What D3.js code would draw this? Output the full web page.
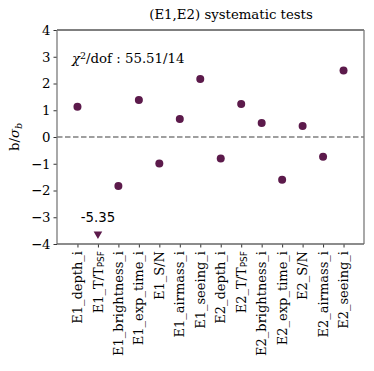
<!DOCTYPE html>
<html>
<head>
<meta charset="utf-8">
<script src="https://cdn.jsdelivr.net/npm/d3@7"></script>
<style>
  body { margin: 0; background: #fff; }
  text { font-family: "DejaVu Serif", serif; }
</style>
</head>
<body>
<svg id="chart" width="374" height="371"></svg>
<script>
// tests on the x axis, b/sigma_b values
var tests = ["E1_depth_i", "E1_T/T_PSF", "E1_brightness_i", "E1_exp_time_i", "E1_S/N",
  "E1_airmass_i", "E1_seeing_i", "E2_depth_i", "E2_T/T_PSF", "E2_brightness_i",
  "E2_exp_time_i", "E2_S/N", "E2_airmass_i", "E2_seeing_i"];
var values = [1.13, -5.35, -1.83, 1.38, -0.99, 0.67, 2.17, -0.80, 1.23, 0.52, -1.60, 0.41, -0.74, 2.49];
var yTicks = [-4, -3, -2, -1, 0, 1, 2, 3, 4];
var chi2 = "55.51", dof = "14";

var width = 374, height = 371;
var margin = { top: 30, right: 10, bottom: 127, left: 57 };
var color = "#5c1a4b";

var svg = d3.select("#chart");

var x = d3.scaleLinear().domain([-1, tests.length]).range([margin.left, width - margin.right]);
var y = d3.scaleLinear().domain([-4, 4]).range([height - margin.bottom, margin.top]);

// zero line
svg.append("line")
  .attr("x1", x(-1)).attr("x2", x(tests.length))
  .attr("y1", y(0)).attr("y2", y(0))
  .attr("stroke", "#808080").attr("stroke-width", 1.5)
  .attr("stroke-dasharray", "5.5,2.5");

// y axis
var yAxis = svg.append("g")
  .attr("transform", "translate(" + margin.left + ",0)")
  .call(d3.axisLeft(y).tickValues(yTicks).tickSize(3.5).tickPadding(3)
    .tickFormat(function (d) { return d < 0 ? "\u2212" + Math.abs(d) : d; }));
yAxis.select(".domain").remove();
yAxis.selectAll("text").style("font-size", "13.3px").attr("fill", "#000");
yAxis.selectAll("line").attr("stroke", "#333");

// x axis
var xAxis = svg.append("g")
  .attr("transform", "translate(0," + y(-4) + ")")
  .call(d3.axisBottom(x).tickValues(d3.range(tests.length)).tickSize(3.5).tickFormat(""));
xAxis.select(".domain").remove();
xAxis.selectAll("line").attr("stroke", "#333");

// x tick labels, rotated
var labels = svg.append("g").selectAll("text")
  .data(tests)
  .enter()
  .append("text")
  .attr("transform", function (d, i) {
    return "translate(" + x(i) + "," + (y(-4) + 7) + ") rotate(-90)";
  })
  .attr("text-anchor", "end")
  .attr("dominant-baseline", "central")
  .style("font-size", "13px");
labels.each(function (d) {
  var t = d3.select(this);
  if (d.indexOf("T/T_PSF") >= 0) {
    t.append("tspan").text(d.replace("_PSF", ""));
    t.append("tspan").text("PSF")
      .style("font-family", "DejaVu Sans, sans-serif")
      .style("font-size", "9px")
      .attr("dy", "0.3em");
  } else {
    t.text(d);
  }
});

// spines
var x0 = x(-1), x1 = x(tests.length), y0 = y(4), y1 = y(-4);
svg.append("line").attr("x1", x0).attr("x2", x1).attr("y1", y0).attr("y2", y0)
  .attr("stroke", "#000").attr("stroke-width", 1);
svg.append("line").attr("x1", x0).attr("x2", x0).attr("y1", y0).attr("y2", y1)
  .attr("stroke", "#7a7a7a").attr("stroke-width", 1.3);
svg.append("line").attr("x1", x1).attr("x2", x1).attr("y1", y0).attr("y2", y1)
  .attr("stroke", "#7a7a7a").attr("stroke-width", 1.3);
svg.append("line").attr("x1", x0).attr("x2", x1).attr("y1", y1).attr("y2", y1)
  .attr("stroke", "#666").attr("stroke-width", 1.3);

// points inside the range
var inside = values.map(function (v, i) { return { i: i, v: v }; })
  .filter(function (d) { return d.v >= -4 && d.v <= 4; });
svg.append("g").selectAll("circle")
  .data(inside)
  .enter()
  .append("circle")
  .attr("cx", function (d) { return x(d.i); })
  .attr("cy", function (d) { return y(d.v); })
  .attr("r", 4)
  .attr("fill", color);

// out of range values: triangle at the bottom with the value above
var below = values.map(function (v, i) { return { i: i, v: v }; })
  .filter(function (d) { return d.v < -4; });
var tri = d3.symbol().type(d3.symbolTriangle).size(32);
svg.append("g").selectAll("path")
  .data(below)
  .enter()
  .append("path")
  .attr("d", tri)
  .attr("transform", function (d) { return "translate(" + x(d.i) + "," + y(-3.63) + ") rotate(180)"; })
  .attr("fill", color);
svg.append("g").selectAll("text")
  .data(below)
  .enter()
  .append("text")
  .attr("x", function (d) { return x(d.i); })
  .attr("y", y(-3.18))
  .attr("text-anchor", "middle")
  .style("font-family", "DejaVu Sans, sans-serif")
  .style("font-size", "13.3px")
  .text(function (d) { return d.v.toFixed(2); });

// chi2 text
var chi = svg.append("text")
  .attr("x", 72).attr("y", 63)
  .style("font-size", "13.3px");
chi.append("tspan").text("\u03c7").style("font-style", "italic");
chi.append("tspan").text("2").style("font-size", "9.5px").attr("dy", "-0.45em");
chi.append("tspan").text("/dof : " + chi2 + "/" + dof).attr("dy", "0.33em");

// y label
var yl = svg.append("text")
  .attr("transform", "translate(19," + y(0) + ") rotate(-90)")
  .attr("text-anchor", "middle")
  .style("font-size", "13.3px");
yl.append("tspan").text("b/");
yl.append("tspan").text("\u03c3").style("font-style", "italic");
yl.append("tspan").text("b").style("font-style", "italic").style("font-size", "9.5px").attr("dy", "0.3em");

// title
svg.append("text")
  .attr("x", 231).attr("y", 19)
  .attr("text-anchor", "middle")
  .style("font-size", "13.3px")
  .text("(E1,E2) systematic tests");
</script>
</body>
</html>
